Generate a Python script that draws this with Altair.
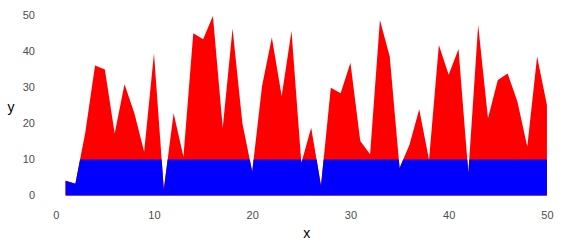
import altair as alt
import pandas as pd

xs = list(range(1, 51))
ys = [4.1, 3.3, 17.4, 36.2, 35.1, 17.3, 31.0, 23.0, 12.2, 39.6,
      1.7, 22.9, 10.8, 45.2, 43.5, 50.0, 18.9, 46.5, 20.1, 6.6,
      30.5, 44.0, 27.7, 45.8, 9.0, 18.9, 2.7, 30.0, 28.5, 37.0,
      15.2, 11.5, 48.9, 38.7, 7.6, 14.1, 24.0, 9.9, 41.9, 33.6,
      40.8, 6.2, 47.5, 21.5, 32.2, 34.0, 26.1, 13.6, 38.7, 25.2]
threshold = 10
tick_values = [0, 10, 20, 30, 40, 50]

# add the points where the line crosses the threshold so both areas share one outline
px, py = [], []
for i in range(len(xs)):
    if i > 0:
        y0, y1 = ys[i - 1], ys[i]
        if (y0 - threshold) * (y1 - threshold) < 0:
            t = (threshold - y0) / (y1 - y0)
            px.append(xs[i - 1] + t * (xs[i] - xs[i - 1]))
            py.append(threshold)
    px.append(xs[i])
    py.append(ys[i])

df = pd.DataFrame({"x": px, "y": py})
df["yb"] = df["y"].clip(upper=threshold)

font = "Liberation Sans"
xscale = alt.Scale(domain=[-1.45, 52.45], nice=False, zero=False)
yscale = alt.Scale(domain=[-2.5, 52.5], nice=False, zero=False)

xaxis = alt.Axis(values=tick_values, grid=False, domain=False, ticks=False, labelOverlap=False,
                 labelFont=font, labelFontSize=11, labelColor="#4d4d4d", labelPadding=5,
                 titleFont=font, titleFontSize=14, titleColor="#000000", titleFontWeight="normal",
                 titleBaseline="middle", titleY=29)
yaxis = alt.Axis(values=tick_values, grid=False, domain=False, ticks=False, labelOverlap=False,
                 labelFont=font, labelFontSize=11, labelColor="#4d4d4d", labelPadding=7,
                 titleFont=font, titleFontSize=14, titleColor="#000000", titleFontWeight="normal",
                 titleAngle=0, titleAlign="center", titleBaseline="middle", titleX=-31, titleY=100)

red = alt.Chart(df).mark_area(color="#FF0000", opacity=1).encode(
    x=alt.X("x:Q", scale=xscale, axis=xaxis, title="x"),
    y=alt.Y("y:Q", scale=yscale, axis=yaxis, title="y"),
    y2=alt.Y2(datum=0),
)

blue = alt.Chart(df).mark_area(color="#0000FF", opacity=1).encode(
    x=alt.X("x:Q", scale=xscale, axis=xaxis, title="x"),
    y=alt.Y("yb:Q", scale=yscale, axis=yaxis, title="y"),
    y2=alt.Y2(datum=0),
)

chart = alt.layer(red, blue).properties(
    width=529.5, height=197.5,
    autosize=alt.AutoSizeParams(type="none"),
    padding={"left": 41.5, "top": 7, "right": 8, "bottom": 39.5},
).configure_view(stroke=None).configure_axis(labelOverlap=False)

chart.save("out.html", embed_options={"renderer": "svg", "actions": False})
